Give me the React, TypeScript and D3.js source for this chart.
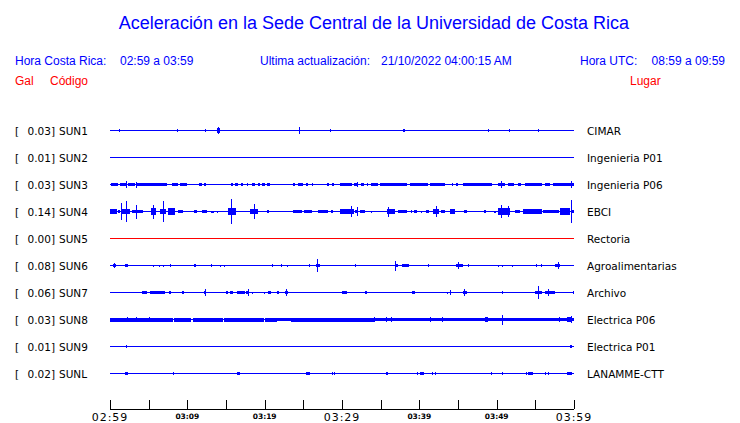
import React from "react";
import * as d3 from "d3";

// ---------- data ----------
const codes = ["SUN1", "SUN2", "SUN3", "SUN4", "SUN5", "SUN6", "SUN7", "SUN8", "SUN9", "SUNL"];
const peaks = ["0.03", "0.01", "0.03", "0.14", "0.00", "0.08", "0.06", "0.03", "0.01", "0.02"];
const places = ["CIMAR", "Ingenieria P01", "Ingenieria P06", "EBCI", "Rectoria", "Agroalimentarias", "Archivo", "Electrica P06", "Electrica P01", "LANAMME-CTT"];

const tickMinutes = [0, 5, 10, 15, 20, 25, 30, 35, 40, 45, 50, 55, 60];
const tickLabels: Record<number, string> = { 0: "02:59", 10: "03:09", 20: "03:19", 30: "03:29", 40: "03:39", 50: "03:49", 60: "03:59" };
const majorTicks = [0, 30, 60];

type Band = [number, number, number]; // start min, end min, relative amplitude
type Spike = [number, number]; // minute, relative amplitude

const sun1Bands: Band[] = [[13.9, 14.2, 0.2], [37.9, 38.2, 0.12]];
const sun1Spikes: Spike[] = [[1.2, 0.12], [8.7, 0.12], [12.3, 0.12], [14.0, 0.28], [24.4, 0.28], [28.4, 0.12], [29.3, 0.07], [48.9, 0.1], [49.6, 0.06], [51.6, 0.12], [55.4, 0.12]];

const sun2Bands: Band[] = [];
const sun2Spikes: Spike[] = [];

const sun3Bands: Band[] = [
  [0.13, 1.08, 0.14], [1.29, 2.03, 0.14], [2.28, 3.23, 0.14], [3.45, 7.33, 0.15], [7.97, 8.84, 0.14], [9.05, 9.91, 0.14],
  [11.55, 11.85, 0.12], [12.16, 12.37, 0.12], [15.65, 15.95, 0.12], [16.16, 16.51, 0.14], [17.0, 17.2, 0.12], [17.7, 17.9, 0.12],
  [18.3, 18.7, 0.12], [19.1, 19.4, 0.12], [19.7, 20.0, 0.12], [20.26, 20.69, 0.14], [23.7, 23.9, 0.1], [24.35, 25.0, 0.14],
  [25.4, 25.6, 0.1], [26.1, 26.3, 0.1], [28.0, 28.3, 0.12], [28.75, 29.0, 0.12], [29.7, 31.25, 0.14], [31.5, 32.1, 0.14],
  [32.5, 32.9, 0.12], [33.2, 33.4, 0.12], [33.8, 34.6, 0.14], [34.9, 38.4, 0.15], [38.8, 41.1, 0.14], [41.4, 43.3, 0.15],
  [44.2, 44.4, 0.12], [44.8, 45.0, 0.1], [45.7, 49.4, 0.14], [50.2, 51.1, 0.14], [51.5, 52.2, 0.14], [52.7, 53.2, 0.12],
  [53.6, 55.9, 0.15], [56.25, 56.9, 0.14], [57.3, 60.0, 0.15],
];
const sun3Spikes: Spike[] = [[2.1, 0.27], [3.4, 0.24], [14.65, 0.06], [22.0, 0.06], [22.9, 0.06], [31.9, 0.2], [50.6, 0.28], [59.6, 0.25]];

const sun4Bands: Band[] = [
  [0, 0.86, 0.22], [1.0, 1.3, 0.15], [1.5, 2.6, 0.2], [2.8, 4.3, 0.15], [5.3, 6.0, 0.25], [6.5, 7.3, 0.22], [7.5, 8.4, 0.25],
  [8.75, 9.5, 0.15], [10.8, 11.2, 0.1], [11.85, 12.5, 0.1], [13.1, 13.4, 0.08], [13.8, 14.0, 0.08], [14.4, 14.6, 0.06],
  [15.2, 16.25, 0.25], [18.1, 19.2, 0.2], [20.3, 20.5, 0.15], [21.7, 21.9, 0.06], [22.4, 22.6, 0.06], [23.7, 24.8, 0.12],
  [25.1, 26.1, 0.12], [26.9, 28.2, 0.12], [28.6, 28.8, 0.1], [29.7, 31.5, 0.22], [31.7, 32.1, 0.12], [32.3, 33.0, 0.12],
  [33.75, 33.9, 0.08], [34.9, 35.1, 0.05], [35.8, 36.9, 0.22], [37.3, 38.4, 0.14], [38.9, 39.1, 0.1], [39.35, 39.65, 0.1],
  [40.2, 40.4, 0.08], [40.9, 41.2, 0.1], [41.8, 42.5, 0.22], [42.8, 43.3, 0.12], [43.97, 44.6, 0.2], [45.8, 46.1, 0.1],
  [48.3, 48.6, 0.1], [49.0, 49.2, 0.06], [49.7, 49.9, 0.08], [50.2, 51.7, 0.25], [52.4, 53.0, 0.15], [53.45, 55.8, 0.2],
  [56.0, 58.0, 0.12], [58.2, 59.5, 0.3], [59.7, 60, 0.15],
];
const sun4Spikes: Spike[] = [
  [1.38, 0.65], [2.07, 0.82], [3.36, 0.56], [5.6, 0.56], [6.9, 0.87], [7.97, 0.3], [15.7, 1.0], [18.6, 0.57],
  [31.2, 0.44], [31.9, 0.36], [36.0, 0.4], [42.1, 0.46], [50.6, 0.52], [51.5, 0.46], [59.6, 0.93],
];

const sun5Bands: Band[] = [];
const sun5Spikes: Spike[] = [];

const sun6Bands: Band[] = [
  [0.4, 0.8, 0.1], [2.0, 2.3, 0.12], [10.9, 11.15, 0.12], [26.6, 27.2, 0.15], [36.8, 37.3, 0.12], [37.8, 38.6, 0.12],
  [44.8, 45.6, 0.15], [57.6, 58.2, 0.12],
];
const sun6Spikes: Spike[] = [
  [0.56, 0.2], [1.4, 0.06], [4.5, 0.06], [5.6, 0.08], [6.4, 0.08], [6.9, 0.08], [7.7, 0.15], [13.1, 0.12], [14.2, 0.08],
  [14.8, 0.08], [21.0, 0.1], [22.1, 0.1], [22.85, 0.08], [24.8, 0.06], [25.7, 0.1], [26.8, 0.55], [31.7, 0.1], [36.8, 0.4],
  [41.1, 0.1], [44.96, 0.3], [46.25, 0.1], [50.2, 0.08], [50.7, 0.08], [52.0, 0.08], [55.1, 0.1], [55.7, 0.1], [57.9, 0.25],
];

const sun7Bands: Band[] = [
  [4.2, 4.75, 0.12], [5.2, 7.1, 0.14], [7.6, 7.9, 0.12], [9.35, 9.6, 0.1], [12.1, 12.45, 0.12], [15.0, 15.3, 0.12],
  [15.5, 15.95, 0.14], [16.4, 17.5, 0.14], [17.6, 18.0, 0.14], [20.4, 20.8, 0.14], [21.6, 21.8, 0.12], [22.6, 23.0, 0.14],
  [30.0, 30.7, 0.14], [33.0, 33.2, 0.1], [39.0, 39.5, 0.14], [45.6, 46.1, 0.15], [54.9, 55.8, 0.15], [56.2, 57.5, 0.12],
];
const sun7Spikes: Spike[] = [
  [2.3, 0.06], [3.45, 0.06], [10.9, 0.06], [12.3, 0.25], [13.1, 0.06], [17.8, 0.25], [18.3, 0.08], [19.5, 0.06],
  [19.95, 0.08], [22.7, 0.25], [23.6, 0.06], [42.0, 0.05], [43.6, 0.08], [43.95, 0.2], [45.8, 0.3], [48.3, 0.06],
  [48.7, 0.06], [50.3, 0.05], [50.7, 0.1], [54.2, 0.05], [55.4, 0.5], [56.7, 0.25], [58.6, 0.06], [59.3, 0.06], [59.9, 0.1],
];

const sun8Bands: Band[] = [
  [0, 8.1, 0.16], [8.3, 10.5, 0.16], [10.7, 14.55, 0.16], [14.75, 19.9, 0.16], [20.1, 21.6, 0.16], [21.6, 23.4, 0.13],
  [23.4, 34.2, 0.16], [34.2, 60, 0.11], [48.5, 48.9, 0.2], [59.05, 59.7, 0.2],
];
const sun8Spikes: Spike[] = [
  [2.2, 0.2], [3.4, 0.18], [5.1, 0.18], [34.2, 0.18], [35.7, 0.17], [36.3, 0.22], [37.2, 0.15], [37.6, 0.15], [38.0, 0.15],
  [38.2, 0.15], [40.0, 0.15], [41.4, 0.18], [42.9, 0.18], [50.7, 0.4], [51.5, 0.15], [54.0, 0.15], [57.8, 0.15], [58.1, 0.2],
  [59.6, 0.28],
];

const sun9Bands: Band[] = [[59.5, 59.7, 0.1]];
const sun9Spikes: Spike[] = [[2.1, 0.12], [50.7, 0.06]];

const sunLBands: Band[] = [
  [2.0, 2.3, 0.1], [16.4, 16.85, 0.15], [25.4, 25.8, 0.15], [35.2, 35.6, 0.06], [35.7, 36.0, 0.12], [40.1, 40.65, 0.15],
  [54.0, 54.7, 0.15], [59.05, 59.7, 0.12],
];
const sunLSpikes: Spike[] = [
  [2.9, 0.06], [8.2, 0.1], [9.6, 0.05], [10.1, 0.05], [11.1, 0.05], [18.0, 0.05], [27.5, 0.05], [28.75, 0.1], [29.0, 0.1],
  [37.9, 0.05], [39.75, 0.1], [41.7, 0.1], [42.0, 0.1], [43.2, 0.06], [48.7, 0.05], [49.3, 0.1], [50.7, 0.1], [51.5, 0.05],
  [53.4, 0.05], [53.75, 0.1], [56.25, 0.1], [56.7, 0.1],
];

const allBands = [sun1Bands, sun2Bands, sun3Bands, sun4Bands, sun5Bands, sun6Bands, sun7Bands, sun8Bands, sun9Bands, sunLBands];
const allSpikes = [sun1Spikes, sun2Spikes, sun3Spikes, sun4Spikes, sun5Spikes, sun6Spikes, sun7Spikes, sun8Spikes, sun9Spikes, sunLSpikes];

// ---------- layout ----------
const W = 740;
const H = 423;
const BLUE = "#0000ff";
const RED = "#ff0000";
const SANS = "'Liberation Sans', Arial, sans-serif";
const DEJAVU = "'DejaVu Sans', sans-serif";

export default function App() {
  const x = d3.scaleLinear().domain([0, 60]).range([110, 574]);
  const y = d3.scalePoint<string>().domain(codes).range([130, 373]);
  const amp = d3.scaleLinear().domain([0, 1]).range([0, 12.5]);
  const axisY = 409;

  return (
    <svg width={W} height={H} style={{ position: "absolute", left: 0, top: 0, background: "#fff" }}>
      <rect x={0} y={0} width={W} height={H} fill="#fff" />
      <text x={374} y={29} textAnchor="middle" fill={BLUE} fontFamily={SANS} fontSize={18}>
        Aceleración en la Sede Central de la Universidad de Costa Rica
      </text>

      <g fontFamily={SANS} fontSize={12} fill={BLUE}>
        <text x={15} y={65}>Hora Costa Rica:</text>
        <text x={120} y={65}>02:59 a 03:59</text>
        <text x={260} y={65}>Ultima actualización:</text>
        <text x={381} y={65}>21/10/2022 04:00:15 AM</text>
        <text x={580} y={65}>Hora UTC:</text>
        <text x={725} y={65} textAnchor="end">08:59 a 09:59</text>
      </g>
      <g fontFamily={SANS} fontSize={12} fill={RED}>
        <text x={15} y={85}>Gal</text>
        <text x={50} y={85}>Código</text>
        <text x={630} y={85}>Lugar</text>
      </g>

      {codes.map((code, i) => {
        const cy = y(code)! + 0.5;
        const color = peaks[i] === "0.00" ? RED : BLUE;
        return (
          <g key={code}>
            <g fontFamily={DEJAVU} fontSize={10.5} fill="#000">
              <text x={15} y={cy + 4}>[</text>
              <text x={55} y={cy + 4} textAnchor="end">{peaks[i] + "]"}</text>
              <text x={59} y={cy + 4}>{code}</text>
              <text x={587} y={cy + 4}>{places[i]}</text>
            </g>
            <line x1={x(0)} x2={x(60)} y1={cy} y2={cy} stroke={color} strokeWidth={1} shapeRendering="crispEdges" />
            {allBands[i].map((b, k) => (
              <rect
                key={"b" + k}
                x={x(b[0])}
                width={Math.max(1, x(b[1]) - x(b[0]))}
                y={cy - amp(b[2])}
                height={2 * amp(b[2])}
                fill={color}
                shapeRendering="crispEdges"
              />
            ))}
            {allSpikes[i].map((s, k) => (
              <line
                key={"s" + k}
                x1={Math.round(x(s[0])) + 0.5}
                x2={Math.round(x(s[0])) + 0.5}
                y1={cy - amp(s[1])}
                y2={cy + amp(s[1])}
                stroke={color}
                strokeWidth={1.5}
                shapeRendering="crispEdges"
              />
            ))}
          </g>
        );
      })}

      <g>
        <line x1={x(0)} x2={x(60)} y1={axisY + 0.5} y2={axisY + 0.5} stroke="#000" strokeWidth={1} shapeRendering="crispEdges" />
        {tickMinutes.map((m) => (
          <line
            key={m}
            x1={Math.round(x(m)) + 0.5}
            x2={Math.round(x(m)) + 0.5}
            y1={axisY - 9}
            y2={axisY}
            stroke="#000"
            strokeWidth={1}
            shapeRendering="crispEdges"
          />
        ))}
        {Object.keys(tickLabels).map((k) => {
          const m = +k;
          const major = majorTicks.includes(m);
          return (
            <text
              key={k}
              x={x(m)}
              y={major ? 421 : 418.5}
              textAnchor="middle"
              fontFamily={DEJAVU}
              fontSize={major ? 11 : 7.5}
              fontWeight={major ? "normal" : "bold"}
              letterSpacing={major ? 1 : 0}
              fill="#000"
            >
              {tickLabels[m]}
            </text>
          );
        })}
      </g>
    </svg>
  );
}
